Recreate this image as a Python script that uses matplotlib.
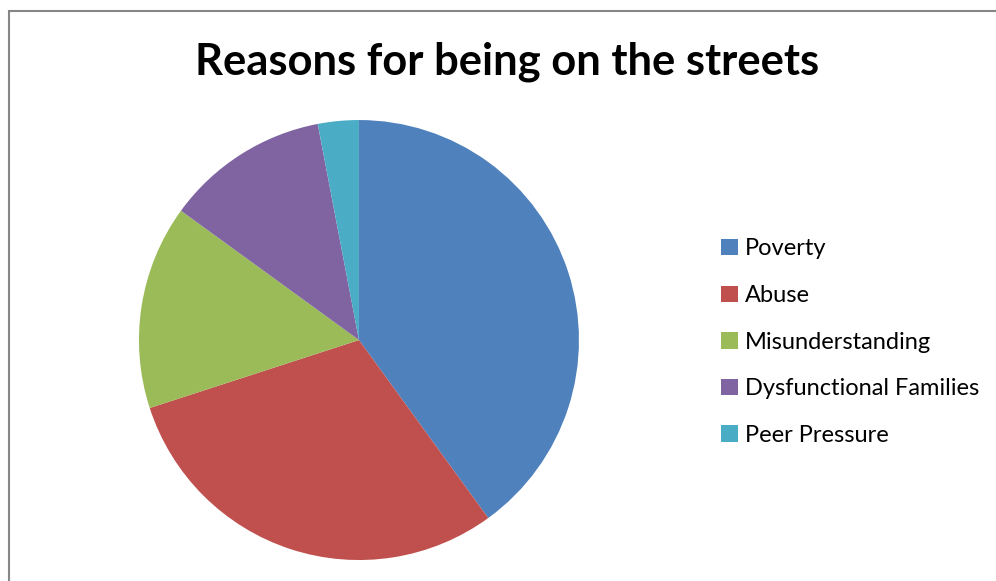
import matplotlib.pyplot as plt
from matplotlib.patches import Rectangle

plt.rcParams['font.family'] = ['Lato', 'DejaVu Sans']

labels = ["Poverty", "Abuse", "Misunderstanding", "Dysfunctional Families", "Peer Pressure"]
values = [40, 30, 15, 12, 3]
colors = ["#4F81BD", "#C0504D", "#9BBB59", "#8064A2", "#4BACC6"]

fig = plt.figure(figsize=(9.96, 5.81), dpi=100)

# chart border (gray line left and top)
fig.add_artist(Rectangle((8.5 / 996, -0.1), 1.2, (581 - 10.5) / 581 + 0.1,
                         transform=fig.transFigure, fill=False,
                         edgecolor="#868686", linewidth=1.5))

ax = fig.add_axes([0.1395, 0.0361, 0.4418, 0.7573])
wedges, _ = ax.pie(values, colors=colors, startangle=90, counterclock=False,
                   radius=1.0, wedgeprops=dict(linewidth=0))
ax.set_xlim(-1, 1)
ax.set_ylim(-1, 1)

fig.text(507 / 996, 1 - 74 / 581, "Reasons for being on the streets",
         ha="center", va="baseline", fontsize=31.3, fontweight="bold")

leg = fig.legend(wedges, labels, loc="upper left",
                 bbox_to_anchor=(712 / 996, 1 - 229 / 581),
                 frameon=False, fontsize=17, handlelength=0.7, handleheight=0.7,
                 handletextpad=0.3, labelspacing=1.085, borderaxespad=0)

fig.savefig("out.png", dpi=100)
